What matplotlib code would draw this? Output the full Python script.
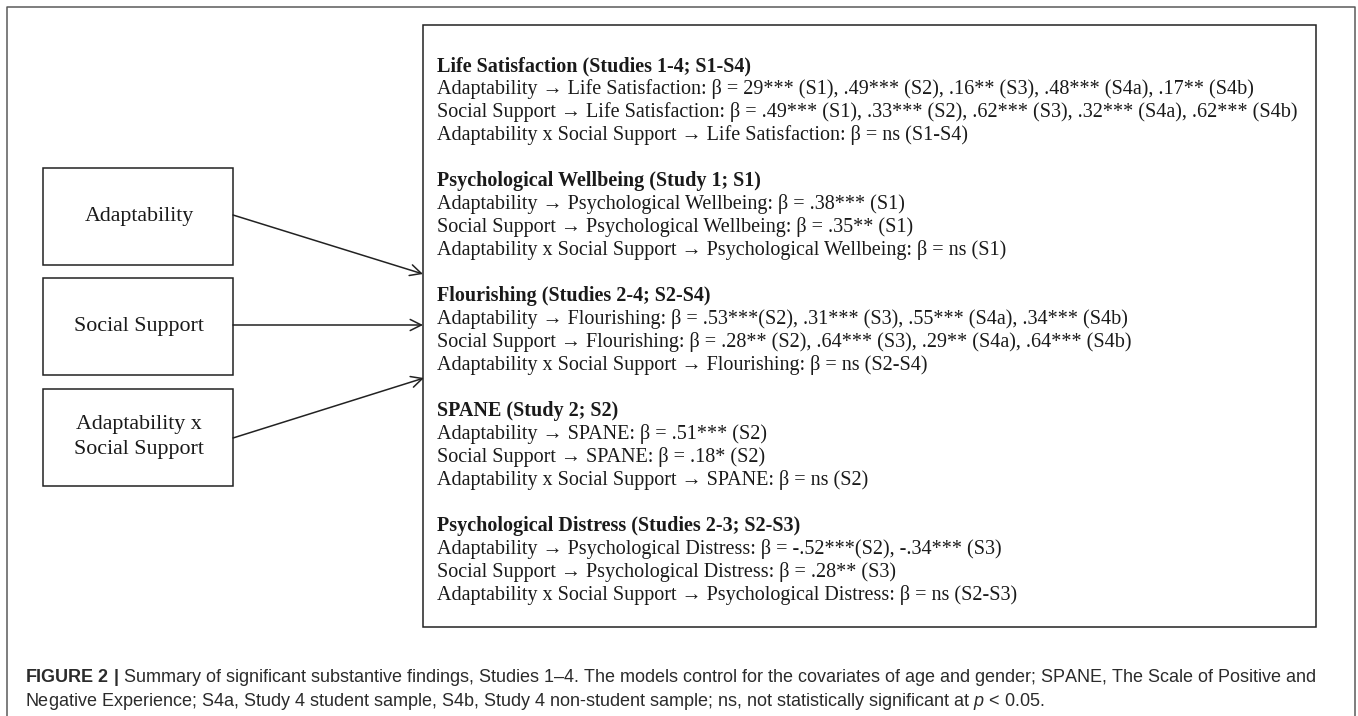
import matplotlib
matplotlib.use('Agg')
import matplotlib.pyplot as plt
from matplotlib import font_manager
from matplotlib.patches import Rectangle

# predictors (left boxes)
predictors = ['Adaptability', 'Social Support', 'Adaptability x\nSocial Support']

# outcomes and findings (right box)
outcome_headers = [
    'Life Satisfaction (Studies 1-4; S1-S4)',
    'Psychological Wellbeing (Study 1; S1)',
    'Flourishing (Studies 2-4; S2-S4)',
    'SPANE (Study 2; S2)',
    'Psychological Distress (Studies 2-3; S2-S3)',
]
adaptability_paths = [
    'Adaptability \u2192 Life Satisfaction: \u03b2 = 29*** (S1), .49*** (S2), .16** (S3), .48*** (S4a), .17** (S4b)',
    'Adaptability \u2192 Psychological Wellbeing: \u03b2 = .38*** (S1)',
    'Adaptability \u2192 Flourishing: \u03b2 = .53***(S2), .31*** (S3), .55*** (S4a), .34*** (S4b)',
    'Adaptability \u2192 SPANE: \u03b2 = .51*** (S2)',
    'Adaptability \u2192 Psychological Distress: \u03b2 = -.52***(S2), -.34*** (S3)',
]
support_paths = [
    'Social Support \u2192 Life Satisfaction: \u03b2 = .49*** (S1), .33*** (S2), .62*** (S3), .32*** (S4a), .62*** (S4b)',
    'Social Support \u2192 Psychological Wellbeing: \u03b2 = .35** (S1)',
    'Social Support \u2192 Flourishing: \u03b2 = .28** (S2), .64*** (S3), .29** (S4a), .64*** (S4b)',
    'Social Support \u2192 SPANE: \u03b2 = .18* (S2)',
    'Social Support \u2192 Psychological Distress: \u03b2 = .28** (S3)',
]
interaction_paths = [
    'Adaptability x Social Support \u2192 Life Satisfaction: \u03b2 = ns (S1-S4)',
    'Adaptability x Social Support \u2192 Psychological Wellbeing: \u03b2 = ns (S1)',
    'Adaptability x Social Support \u2192 Flourishing: \u03b2 = ns (S2-S4)',
    'Adaptability x Social Support \u2192 SPANE: \u03b2 = ns (S2)',
    'Adaptability x Social Support \u2192 Psychological Distress: \u03b2 = ns (S2-S3)',
]

caption_line1 = (r'$\mathbf{FIGURE\ 2\ |}$ Summary of significant substantive findings, Studies 1' + '\u2013' + '4. '
                 'The models control for the covariates of age and gender; SPANE, The Scale of Positive and')
caption_line2 = ('Negative Experience; S4a, Study 4 student sample, S4b, Study 4 non-student sample; '
                 r'ns, not statistically significant at $p$ < 0.05.')

W, H = 1358, 716
serif = ['Liberation Serif', 'DejaVu Serif']
names = {f.name for f in font_manager.fontManager.ttflist}
cap_font = 'Liberation Sans Narrow' if 'Liberation Sans Narrow' in names else 'Liberation Sans'

plt.rcParams['mathtext.fontset'] = 'custom'
plt.rcParams['mathtext.rm'] = cap_font
plt.rcParams['mathtext.bf'] = cap_font + ':bold'
plt.rcParams['mathtext.it'] = cap_font + ':italic'

fig = plt.figure(figsize=(W / 100, H / 100), dpi=100)
ax = fig.add_axes([0, 0, 1, 1])
ax.set_xlim(0, W)
ax.set_ylim(H, 0)
ax.axis('off')

# outer frame, open at the bottom
ax.plot([7, 7, 1355, 1355], [H, 7, 7, H], color='#5a5a5a', lw=1.1)

# findings box
ax.add_patch(Rectangle((423, 25), 1316 - 423, 627 - 25, fill=False, ec='#222222', lw=1.1))

# predictor boxes + arrows
box_tops = [168, 278, 389]
arrow_starts = [(233, 215), (233, 325), (233, 438)]
arrow_ends = [(423, 274), (423, 325), (424, 378)]
for name, top, start, end in zip(predictors, box_tops, arrow_starts, arrow_ends):
    ax.add_patch(Rectangle((43, top), 190, 97, fill=False, ec='#222222', lw=1.1))
    ax.text(139, top + 48, name, ha='center', va='center', fontsize=15.8,
            family=serif, color='#1a1a1a', linespacing=1.45)
    ax.annotate('', xy=end, xytext=start,
                arrowprops=dict(arrowstyle='->', color='#222222', lw=1.1,
                                mutation_scale=20, shrinkA=0, shrinkB=0))

# findings text
for i, hdr in enumerate(outcome_headers):
    y0 = 66 + i * 115
    ax.text(437, y0, hdr, fontsize=14.5, fontweight='bold', family=serif,
            va='center', color='#1a1a1a')
    rows = [adaptability_paths[i], support_paths[i], interaction_paths[i]]
    for j, row in enumerate(rows):
        ax.text(437, y0 + 23 * (j + 1), row, fontsize=14.5, family=serif,
                va='center', color='#1a1a1a')

# caption
c1 = ax.text(25, 677, caption_line1, fontsize=14, family=cap_font, va='center', color='#2b2b2b')
c2 = ax.text(25, 702, caption_line2, fontsize=14, family=cap_font, va='center', color='#2b2b2b')
r = fig.canvas.get_renderer()
scale = 1292 / c1.get_window_extent(r).width
c1.set_fontsize(14 * scale)
c2.set_fontsize(14 * scale)

fig.savefig('out.png', dpi=100, facecolor='white')
